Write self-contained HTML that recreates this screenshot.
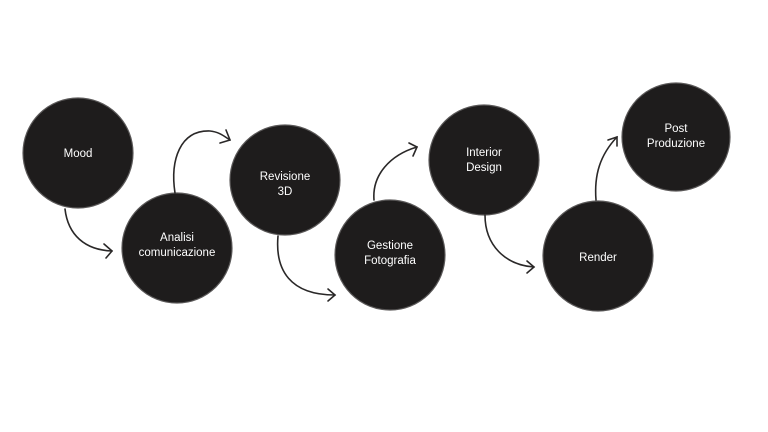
<!DOCTYPE html>
<html><head><meta charset="utf-8"><style>
html,body{margin:0;padding:0;background:#fff;}
svg{display:block}
text{font-family:"Liberation Sans",sans-serif;font-size:11.5px;fill:#fff;text-anchor:middle}
</style></head><body>
<svg width="768" height="432" viewBox="0 0 768 432">
<g fill="#1e1c1c" stroke="#5a5858" stroke-width="1.2">
<circle cx="78" cy="153" r="55"/>
<circle cx="177" cy="248" r="55"/>
<circle cx="285" cy="180" r="55"/>
<circle cx="390" cy="255" r="55"/>
<circle cx="484" cy="160" r="55"/>
<circle cx="598" cy="256" r="55"/>
<circle cx="676" cy="137" r="54"/>
</g>
<g fill="none" stroke="#2a2828" stroke-width="1.6" stroke-linecap="round">
<path d="M65 209 C68 235 85 250 112 251"/><path d="M104 244 L112 251 L106 258"/>
<path d="M175 193 C170 160 180 130 210 131 C220 132 225 137 230 140"/><path d="M226 130 L230 140 L220 143"/>
<path d="M278 236 C275 270 290 295 335 295"/><path d="M328 289 L335 295 L328 301"/>
<path d="M374 200 C372 175 390 155 417 147"/><path d="M409 143 L417 147 L413 156"/>
<path d="M485 215 C485 245 505 265 534 267"/><path d="M527 261 L534 267 L527 273"/>
<path d="M596 200 C594 175 600 155 617 137"/><path d="M608 140 L617 137 L617 146"/>
</g>
<text x="78" y="157">Mood</text>
<text x="177" y="241">Analisi</text><text x="177" y="256">comunicazione</text>
<text x="285" y="180">Revisione</text><text x="285" y="195">3D</text>
<text x="390" y="249">Gestione</text><text x="390" y="264">Fotografia</text>
<text x="484" y="156">Interior</text><text x="484" y="171">Design</text>
<text x="598" y="261">Render</text>
<text x="676" y="132">Post</text><text x="676" y="147">Produzione</text>
</svg>
</body></html>
